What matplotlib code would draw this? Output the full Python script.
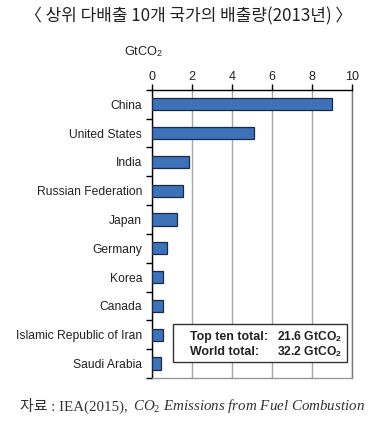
import matplotlib
matplotlib.use('Agg')
import numpy as np
import matplotlib.pyplot as plt
from matplotlib.patches import Rectangle

countries = ['China', 'United States', 'India', 'Russian Federation', 'Japan',
             'Germany', 'Korea', 'Canada', 'Islamic Republic of Iran', 'Saudi Arabia']
emissions = [9.0, 5.1, 1.85, 1.55, 1.25, 0.76, 0.57, 0.55, 0.53, 0.47]
xticks = [0, 2, 4, 6, 8, 10]

sans = ['Liberation Sans', 'DejaVu Sans']
kr = ['Noto Sans CJK KR', 'DejaVu Sans']
serif = ['Liberation Serif', 'Noto Sans CJK KR', 'DejaVu Serif']

plt.rcParams['mathtext.fontset'] = 'custom'
plt.rcParams['mathtext.rm'] = 'Liberation Serif'
plt.rcParams['mathtext.it'] = 'Liberation Serif:italic'
plt.rcParams['mathtext.sf'] = 'Liberation Sans'
plt.rcParams['mathtext.bf'] = 'Liberation Sans:bold'

fig = plt.figure(figsize=(3.77, 4.28), dpi=100)
ax = fig.add_axes([0.403, 0.117, 0.532, 0.673])

y = np.arange(len(countries))
ax.barh(y, emissions, height=0.42, color='#3d72b8', edgecolor='#1a2a40',
        linewidth=0.9, zorder=3)
ax.set_xlim(0, 10)
ax.set_ylim(len(countries) - 0.5, -0.5)

ax.xaxis.tick_top()
ax.set_xticks(xticks)
ax.set_xticklabels([str(t) for t in xticks], family=sans, fontsize=9)
ax.tick_params(axis='x', direction='out', length=4, width=1, pad=1, color='black',
               labelcolor='#222222')

ax.set_yticks(y)
ax.set_yticklabels(countries, family=sans, fontsize=8.7, color='#222222')
ax.tick_params(axis='y', which='major', length=0, pad=7)
ax.set_yticks(np.arange(-0.5, len(countries), 1), minor=True)
ax.tick_params(axis='y', which='minor', length=4, width=1, direction='out')

ax.grid(axis='x', color='#a8a8a8', linewidth=1, zorder=0)
ax.spines['left'].set_color('black')
ax.spines['top'].set_color('black')
ax.spines['right'].set_color('#777777')
ax.spines['bottom'].set_color('#999999')
for s in ax.spines.values():
    s.set_linewidth(1)

# totals box
box = Rectangle((172.7 / 377, 1 - 362 / 428), (347 - 172.7) / 377, (362 - 324) / 428,
                transform=fig.transFigure, facecolor='white', edgecolor='#333333',
                linewidth=1, zorder=5)
fig.patches.append(box)
for lab, val, ypx in [('Top ten total:', '21.6 GtCO$_\\mathbf{2}$', 337),
                      ('World total:', '32.2 GtCO$_\\mathbf{2}$', 352)]:
    fig.text(190 / 377, 1 - ypx / 428, lab, family=sans, fontsize=8.9,
             fontweight='bold', va='center', color='#222222', zorder=6)
    fig.text(277 / 377, 1 - ypx / 428, val, family=sans, fontsize=8.7,
             fontweight='bold', va='center', color='#222222', zorder=6)

fig.text(144 / 377, 1 - 52 / 428, 'GtCO$_\\mathsf{2}$', family=sans, fontsize=9.2,
         ha='center', va='center', color='#222222')

fig.text(0.5, 1 - 16 / 428, '〈 상위 다배출 10개 국가의 배출량(2013년) 〉', family=kr,
         fontsize=12.2, fontweight=500, ha='center', va='center', color='#222222')

# source line: plain part, then italic title right after it
renderer = fig.canvas.get_renderer()
t1 = fig.text(20 / 377, 1 - 406 / 428, '자료 : IEA(2015), ', family=serif, fontsize=10.8,
              va='center', color='#333333')
bb = t1.get_window_extent(renderer)
fig.text(bb.x1 / fig.bbox.width + 0.004, 1 - 406 / 428,
         r'$CO_2$ Emissions from Fuel Combustion', family=serif,
         fontsize=10.8, style='italic', va='center', color='#333333')

fig.savefig('out.png', dpi=100)
